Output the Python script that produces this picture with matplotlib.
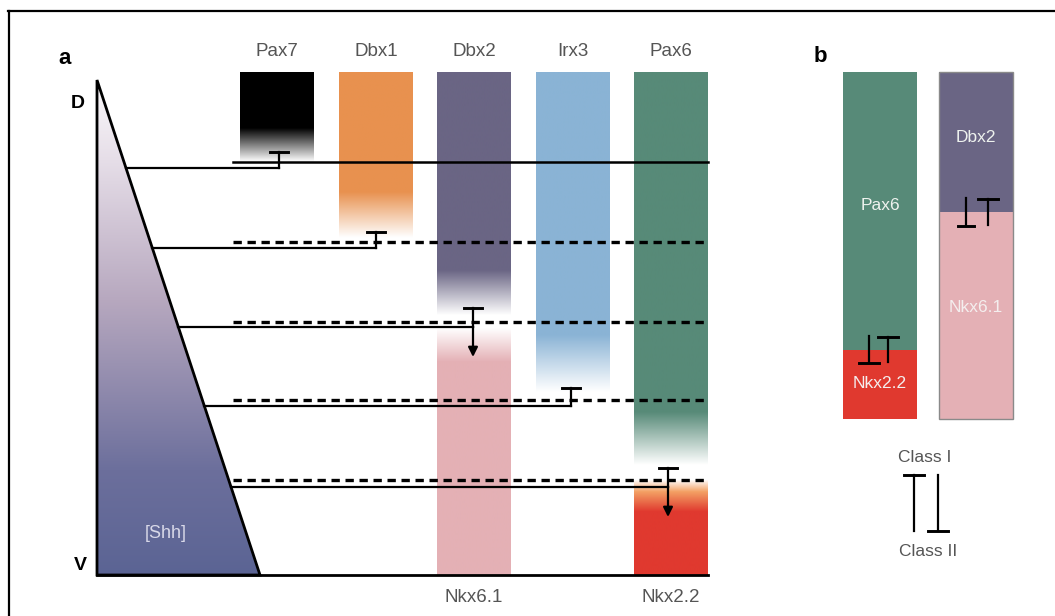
import numpy as np
import matplotlib
matplotlib.use('Agg')
import matplotlib.pyplot as plt
from matplotlib.colors import to_rgb
from matplotlib.patches import Polygon, Rectangle

plt.rcParams['font.family'] = ['Liberation Sans', 'DejaVu Sans']

# panel a: gene columns
genes = ['Pax7', 'Dbx1', 'Dbx2', 'Irx3', 'Pax6']
col_left = [240, 339, 437, 536, 634]
col_w = 74
col_top = 72
base_y = 575
# colour stops down each column (y, colour)
col_stops = [
    [(72, '#000000'), (128, '#000000'), (162, '#ffffff')],
    [(72, '#e8914f'), (192, '#e8914f'), (238, '#ffffff')],
    [(72, '#6a6584'), (270, '#6a6584'), (315, '#ffffff'), (328, '#ffffff'),
     (362, '#e4b0b5'), (575, '#e4b0b5')],
    [(72, '#8ab3d5'), (335, '#8ab3d5'), (392, '#ffffff')],
    [(72, '#578a78'), (412, '#578a78'), (465, '#ffffff'), (480, '#ffffff'),
     (492, '#f3a064'), (512, '#e0392f'), (575, '#e0392f')],
]
bottom_labels = {'Dbx2': 'Nkx6.1', 'Pax6': 'Nkx2.2'}

# Shh triangle
tri_top = (97, 80)
tri_br = (260, 575)
shh_stops = [(80, '#fbf9fb'), (160, '#e6dee8'), (300, '#b7a8bf'),
             (470, '#6c6f9c'), (575, '#5b6494')]

# boundary lines and repressor connectors
bound_y = [162, 242, 322, 400, 480]
bound_style = ['-', '--', '--', '--', '--']
conn_y = [168, 248, 327, 406, 487]
conn_x = [279, 376, 473, 571, 668]
bar_y = [152, 232, 308, 388, 468]
arrow_tip = [None, None, 357, None, 517]

# panel b
b_cols = [
    dict(x=843, top_col='#578a78', bot_col='#e0392f', split=350,
         top_txt='Pax6', top_ty=205, bot_txt='Nkx2.2', bot_ty=383),
    dict(x=939, top_col='#6a6584', bot_col='#e4b0b5', split=212,
         top_txt='Dbx2', top_ty=137, bot_txt='Nkx6.1', bot_ty=307),
]
b_top, b_bot = 72, 419


def vgrad(ax, x0, x1, stops, clip=None):
    ys = np.array([s[0] for s in stops], float)
    cs = np.array([to_rgb(s[1]) for s in stops])
    yy = np.arange(ys[0], ys[-1] + 1)
    img = np.stack([np.interp(yy, ys, cs[:, k]) for k in range(3)], axis=-1)
    img = np.repeat(img[:, None, :], 2, axis=1)
    im = ax.imshow(img, extent=(x0, x1, ys[-1], ys[0]), aspect='auto',
                   interpolation='bilinear', zorder=1)
    if clip is not None:
        im.set_clip_path(clip)
    return im


def tee(ax, x, y0, y1, bar_at, half=9, lw=1.6):
    ax.plot([x, x], [y0, y1], color='k', lw=lw, zorder=5)
    yb = y0 if bar_at == 'top' else y1
    ax.plot([x - half, x + half], [yb, yb], color='k', lw=lw + 0.5, zorder=5)


fig = plt.figure(figsize=(10.55, 6.16), dpi=100)
ax = fig.add_axes([0, 0, 1, 1])
ax.set_xlim(0, 1055)
ax.set_ylim(616, 0)
ax.axis('off')

# frame (top and left only)
ax.plot([8, 1055], [11, 11], color='k', lw=1.6)
ax.plot([9, 9], [11, 616], color='k', lw=1.6)

ax.text(65, 59, 'a', fontsize=16, fontweight='bold', ha='center', va='center')
ax.text(820, 56, 'b', fontsize=16, fontweight='bold', ha='center', va='center')
ax.text(78, 103, 'D', fontsize=14, fontweight='bold', ha='center', va='center')
ax.text(80, 566, 'V', fontsize=14, fontweight='bold', ha='center', va='center')

# triangle
tri = Polygon([tri_top, (tri_top[0], tri_br[1]), tri_br], closed=True,
              facecolor='none', edgecolor='k', lw=2, zorder=3)
ax.add_patch(tri)
vgrad(ax, tri_top[0], tri_br[0], shh_stops, clip=tri)
ax.text(166, 533, '[Shh]', fontsize=13, color='#d8d8e8', ha='center', va='center',
        zorder=4)

# columns
for g, x0, stops in zip(genes, col_left, col_stops):
    vgrad(ax, x0, x0 + col_w, stops)
    ax.text(x0 + col_w / 2, 52, g, fontsize=13.5, color='#555555',
            ha='center', va='center')
    if g in bottom_labels:
        ax.text(x0 + col_w / 2, 598, bottom_labels[g], fontsize=13.5,
                color='#555555', ha='center', va='center')

# baseline
ax.plot([tri_top[0], col_left[-1] + col_w], [base_y, base_y], color='k', lw=2,
        zorder=5)

x_right = col_left[-1] + col_w
slope = (tri_br[0] - tri_top[0]) / (tri_br[1] - tri_top[1])
for by, st, cy, cx, ty, tip in zip(bound_y, bound_style, conn_y, conn_x,
                                   bar_y, arrow_tip):
    if st == '-':
        ax.plot([233, x_right], [by, by], color='k', lw=1.8, zorder=4)
    else:
        ax.plot([233, x_right], [by, by], color='k', lw=2.4, zorder=4,
                dashes=(2.5, 1.7))
    x_tri = tri_top[0] + (cy - tri_top[1]) * slope
    ax.plot([x_tri, cx], [cy, cy], color='k', lw=1.6, zorder=5)
    tee(ax, cx, ty, cy, 'top')
    if tip is not None:
        ax.annotate('', xy=(cx, tip), xytext=(cx, cy - 1),
                    arrowprops=dict(arrowstyle='-|>', color='k', lw=1.6,
                                    mutation_scale=14, shrinkA=0, shrinkB=0),
                    zorder=6)

# panel b columns
for c in b_cols:
    x0 = c['x']
    ax.add_patch(Rectangle((x0, b_top), col_w, c['split'] - b_top,
                           facecolor=c['top_col'], edgecolor='none', zorder=2))
    ax.add_patch(Rectangle((x0, c['split']), col_w, b_bot - c['split'],
                           facecolor=c['bot_col'], edgecolor='none', zorder=2))
    ax.text(x0 + col_w / 2, c['top_ty'], c['top_txt'], fontsize=12.5,
            color='#eef2ee', ha='center', va='center', zorder=3)
    ax.text(x0 + col_w / 2, c['bot_ty'], c['bot_txt'], fontsize=12.5,
            color='#f4eeee', ha='center', va='center', zorder=3)
ax.add_patch(Rectangle((b_cols[1]['x'], b_top), col_w, b_bot - b_top,
                       facecolor='none', edgecolor='#8a8a8a', lw=1, zorder=3))

# mutual repression marks
tee(ax, 869, 336, 363, 'bottom', half=10)
tee(ax, 888, 337, 362, 'top', half=10)
tee(ax, 966, 198, 226, 'bottom', half=8)
tee(ax, 988, 199, 225, 'top', half=10)

# legend
ax.text(925, 458, 'Class I', fontsize=12.5, color='#555555', ha='center', va='center')
ax.text(928, 551, 'Class II', fontsize=12.5, color='#555555', ha='center', va='center')
tee(ax, 914, 475, 531, 'top', half=10)
tee(ax, 938, 475, 531, 'bottom', half=10)

fig.savefig('out.png', dpi=100)
